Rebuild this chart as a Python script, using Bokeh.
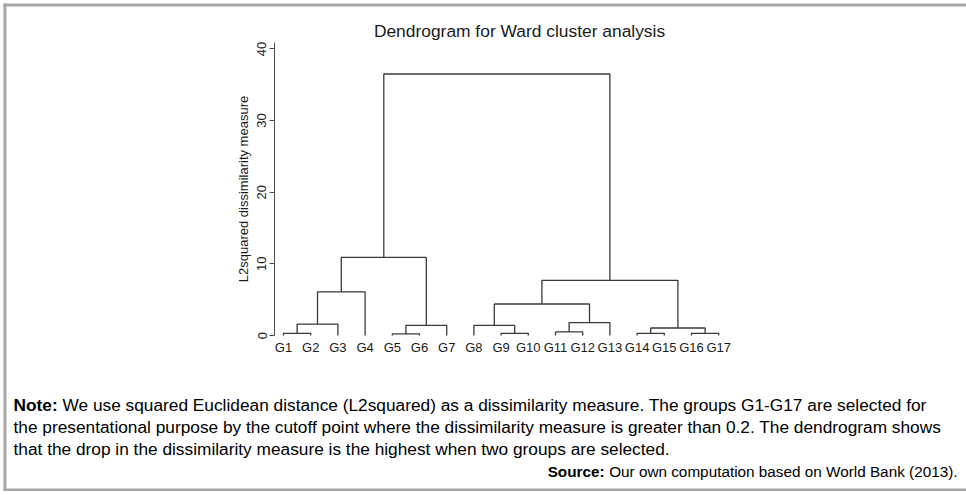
from bokeh.plotting import figure
from bokeh.models import Label, FixedTicker, Range1d, LinearAxis
from bokeh.embed import file_html
from bokeh.resources import INLINE

# ---------------- data ----------------
groups = ["G1", "G2", "G3", "G4", "G5", "G6", "G7", "G8", "G9", "G10",
          "G11", "G12", "G13", "G14", "G15", "G16", "G17"]
# linkage: indices < 17 are leaves (in display order), >= 17 are earlier merges
merge_left = [0, 17, 18, 4, 20, 19, 8, 7, 10, 25, 24, 13, 15, 28, 27, 22]
merge_right = [1, 2, 3, 5, 6, 21, 9, 23, 11, 12, 26, 14, 16, 29, 30, 31]
merge_height = [0.3, 1.6, 6.1, 0.22, 1.4, 10.9, 0.3, 1.4, 0.5, 1.8, 4.4,
                0.3, 0.3, 1.05, 7.7, 36.5]
y_ticks = [0, 10, 20, 30, 40]

title_text = "Dendrogram for Ward cluster analysis"
y_label = "L2squared dissimilarity measure"
note_bold = "Note:"
note_lines = [
    "We use squared Euclidean distance (L2squared) as a dissimilarity measure. The groups G1-G17 are selected for",
    "the presentational purpose by the cutoff point where the dissimilarity measure is greater than 0.2. The dendrogram shows",
    "that the drop in the dissimilarity measure is the highest when two groups are selected.",
]
source_bold = "Source:"
source_text = "Our own computation based on World Bank (2013)."

FONT = "Liberation Sans"
GRAY = "#a6a6a6"

# ---------------- dendrogram geometry from linkage ----------------
n = len(groups)
pos = {i: i + 1 for i in range(n)}
hgt = {i: 0.0 for i in range(n)}
xs, ys = [], []
for k, (a, b, h) in enumerate(zip(merge_left, merge_right, merge_height)):
    xs.append([pos[a], pos[a], pos[b], pos[b]])
    ys.append([hgt[a], h, h, hgt[b]])
    pos[n + k] = (pos[a] + pos[b]) / 2.0
    hgt[n + k] = h

# ---------------- layout: the frame covers the whole canvas ----------------
W, H = 966, 491
axis_px = 274          # page x of the y axis
leaf1_px = 283         # page x of first leaf
ppx = 27.2             # px per leaf
zero_py = 335          # page y of dissimilarity 0
top_py = 42            # page y of top of axis
y_top = 40.9
ppy = (zero_py - top_py) / y_top

x_start = 1 - leaf1_px / ppx
x_end = x_start + W / ppx
y_start = (zero_py - H) / ppy
y_stop = zero_py / ppy


def dx(px):
    return x_start + px / ppx


def dy(py):
    return (zero_py - py) / ppy


p = figure(width=W, height=H, output_backend="svg", toolbar_location=None,
           x_range=Range1d(x_start, x_end), y_range=Range1d(y_start, y_stop),
           x_axis_type=None, y_axis_type=None, min_border=0)
p.outline_line_color = None
p.background_fill_color = "white"
p.border_fill_color = "white"

# page frame lines (left, top, bottom)
p.quad(left=[dx(3), dx(3), dx(3)], right=[dx(6), dx(W), dx(W)],
       top=[dy(3), dy(3), dy(H - 3)], bottom=[dy(H), dy(6), dy(H)],
       fill_color=GRAY, line_color=None)

p.multi_line(xs, ys, line_color="#3a3a3a", line_width=1.3)

xa = LinearAxis(fixed_location=0)
xa.ticker = FixedTicker(ticks=list(range(1, n + 1)))
xa.major_label_overrides = {i + 1: g for i, g in enumerate(groups)}
xa.axis_line_color = None
xa.major_tick_line_color = None
xa.minor_tick_line_color = None
xa.major_tick_out = 0
xa.major_tick_in = 0
xa.major_label_standoff = 4
xa.major_label_text_font = FONT
xa.major_label_text_font_size = "13px"
xa.major_label_text_color = "#1a1a1a"
p.add_layout(xa, "below")

ya = LinearAxis(fixed_location=dx(axis_px), bounds=(0, y_top))
ya.ticker = FixedTicker(ticks=y_ticks)
ya.major_label_orientation = "vertical"
ya.axis_line_color = "#4a4a4a"
ya.major_tick_line_color = "#4a4a4a"
ya.minor_tick_line_color = None
ya.major_tick_out = 5
ya.major_tick_in = 0
ya.major_label_standoff = 3
ya.major_label_text_font = FONT
ya.major_label_text_font_size = "13px"
ya.major_label_text_color = "#1a1a1a"
ya.axis_label = y_label
ya.axis_label_text_font = FONT
ya.axis_label_text_font_style = "normal"
ya.axis_label_text_font_size = "13px"
ya.axis_label_text_color = "#1a1a1a"
ya.axis_label_standoff = 4
p.add_layout(ya, "left")

# title
p.add_layout(Label(x=dx(519), y=dy(30), text=title_text, text_align="center",
                   text_baseline="middle", text_font=FONT, text_font_size="17.4px",
                   text_color="#1a1a1a"))

# note
NF = 17.3
line_y = [404, 426, 448]
p.add_layout(Label(x=dx(13), y=dy(line_y[0]), text=note_bold, text_align="left",
                   text_baseline="middle", text_font=FONT, text_font_size=f"{NF}px",
                   text_font_style="bold", text_color="black"))
p.add_layout(Label(x=dx(13 + 2.555 * NF + 0.278 * NF), y=dy(line_y[0]), text=note_lines[0],
                   text_align="left", text_baseline="middle", text_font=FONT,
                   text_font_size=f"{NF}px", text_color="black"))
for t, yy in zip(note_lines[1:], line_y[1:]):
    p.add_layout(Label(x=dx(13), y=dy(yy), text=t, text_align="left",
                       text_baseline="middle", text_font=FONT,
                       text_font_size=f"{NF}px", text_color="black"))

# source
SF = 15.3
src_right = 957
src_x0 = src_right - 26.789 * SF
p.add_layout(Label(x=dx(src_x0), y=dy(471), text=source_bold, text_align="left",
                   text_baseline="middle", text_font=FONT, text_font_size=f"{SF}px",
                   text_font_style="bold", text_color="black"))
p.add_layout(Label(x=dx(src_right), y=dy(471), text=source_text, text_align="right",
                   text_baseline="middle", text_font=FONT, text_font_size=f"{SF}px",
                   text_color="black"))

open("out.html", "w").write(file_html(p, INLINE))
